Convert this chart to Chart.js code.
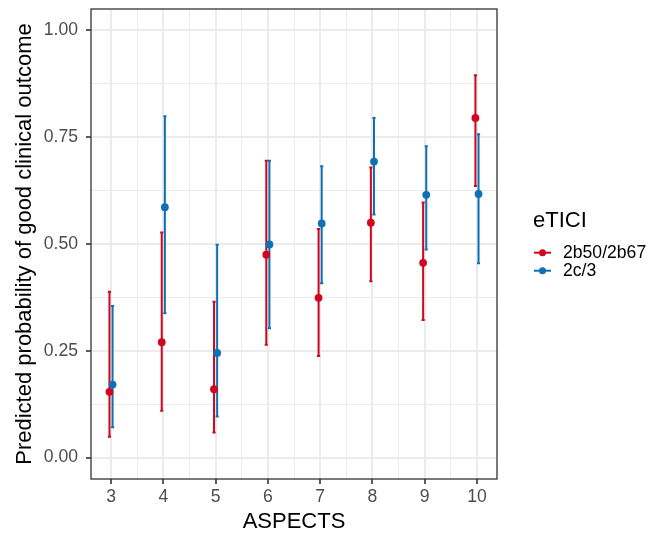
<!DOCTYPE html>
<html>
<head>
<meta charset="utf-8">
<script src="https://cdn.jsdelivr.net/npm/chart.js@4.4.1/dist/chart.umd.min.js"></script>
<style>
  html, body { margin: 0; padding: 0; background: #fff; }
  #wrap { width: 664px; height: 535px; }
</style>
</head>
<body>
<div id="wrap"><canvas id="chart" width="664" height="535"></canvas></div>
<script>
// data
const ASPECTS = [3, 4, 5, 6, 7, 8, 9, 10];
const SERIES = ["2b50/2b67", "2c/3"];

const RED_EST = [0.154, 0.270, 0.160, 0.475, 0.374, 0.550, 0.456, 0.795];
const RED_LO  = [0.049, 0.110, 0.059, 0.264, 0.238, 0.413, 0.322, 0.636];
const RED_HI  = [0.388, 0.527, 0.365, 0.695, 0.535, 0.679, 0.597, 0.895];

const BLUE_EST = [0.171, 0.586, 0.245, 0.499, 0.548, 0.693, 0.615, 0.617];
const BLUE_LO  = [0.071, 0.338, 0.096, 0.303, 0.408, 0.569, 0.487, 0.455];
const BLUE_HI  = [0.355, 0.799, 0.498, 0.695, 0.682, 0.795, 0.729, 0.757];

const Y_MAJOR = [0, 0.25, 0.5, 0.75, 1];
const Y_MINOR = [0.125, 0.375, 0.625, 0.875];
const X_MAJOR = ASPECTS;
const X_MINOR = [3.5, 4.5, 5.5, 6.5, 7.5, 8.5, 9.5];

// looks
const COLORS = ["#D1071F", "#1070B5"];
const DODGE = 0.03;   // dodge in x units
const CAP = 0.03;     // half width of the whisker caps, x units
const FONT = "'Liberation Sans', Arial, sans-serif";

function points(est, side) {
  return ASPECTS.map((a, i) => ({ x: a + side * DODGE, y: est[i] }));
}

const bars = [
  { lo: RED_LO, hi: RED_HI, side: -1, color: COLORS[0] },
  { lo: BLUE_LO, hi: BLUE_HI, side: 1, color: COLORS[1] }
];

// whiskers under all the points
const errorBars = {
  id: "errorBars",
  beforeDatasetsDraw(chart) {
    const { ctx, scales: { x, y } } = chart;
    ctx.save();
    bars.forEach(b => {
      ctx.strokeStyle = b.color;
      ctx.lineWidth = 2;
      ASPECTS.forEach((a, i) => {
        const xv = a + b.side * DODGE;
        const px = x.getPixelForValue(xv);
        const p0 = x.getPixelForValue(xv - CAP), p1 = x.getPixelForValue(xv + CAP);
        const yl = y.getPixelForValue(b.lo[i]), yh = y.getPixelForValue(b.hi[i]);
        ctx.beginPath();
        ctx.moveTo(px, yl); ctx.lineTo(px, yh);
        ctx.moveTo(p0, yl); ctx.lineTo(p1, yl);
        ctx.moveTo(p0, yh); ctx.lineTo(p1, yh);
        ctx.stroke();
      });
    });
    ctx.restore();
  }
};

// panel border + ggplot style legend
const frameAndLegend = {
  id: "frameAndLegend",
  afterDraw(chart) {
    const { ctx, chartArea: a } = chart;
    ctx.save();
    ctx.strokeStyle = "#333333";
    ctx.lineWidth = 1.3;
    ctx.strokeRect(a.left, a.top, a.right - a.left, a.bottom - a.top);

    ctx.fillStyle = "#000";
    ctx.textBaseline = "middle";
    ctx.textAlign = "left";
    ctx.font = `22px ${FONT}`;
    ctx.fillText("eTICI", 533, 221);

    ctx.font = `17.6px ${FONT}`;
    SERIES.forEach((s, i) => {
      const yy = 252.7 + i * 18;
      ctx.strokeStyle = COLORS[i];
      ctx.fillStyle = COLORS[i];
      ctx.lineWidth = 2;
      ctx.beginPath(); ctx.moveTo(534, yy); ctx.lineTo(551, yy); ctx.stroke();
      ctx.beginPath(); ctx.arc(542.5, yy, 3.5, 0, Math.PI * 2); ctx.fill();
      ctx.fillStyle = "#000";
      ctx.fillText(s, 563, yy);
    });
    ctx.restore();
  }
};

function gridOpts(major) {
  const isMajor = v => major.some(m => Math.abs(m - v) < 1e-9);
  return {
    color: c => "#EBEBEB",
    lineWidth: c => isMajor(c.tick.value) ? 2 : 1,
    tickColor: c => isMajor(c.tick.value) ? "#333333" : "rgba(0,0,0,0)",
    tickWidth: c => isMajor(c.tick.value) ? 1.6 : 0,
    tickLength: 5,
    drawTicks: true
  };
}

const chart = new Chart(document.getElementById("chart"), {
  type: "scatter",
  data: {
    datasets: [
      { label: SERIES[0], data: points(RED_EST, -1), backgroundColor: COLORS[0], borderColor: COLORS[0],
        pointRadius: 3.9, pointHoverRadius: 3.9, borderWidth: 0, order: 1 },
      { label: SERIES[1], data: points(BLUE_EST, 1), backgroundColor: COLORS[1], borderColor: COLORS[1],
        pointRadius: 3.9, pointHoverRadius: 3.9, borderWidth: 0, order: 0 }
    ]
  },
  options: {
    responsive: false,
    animation: false,
    events: [],
    layout: { padding: { left: 0, top: 9, right: 167, bottom: 0 } },
    plugins: { legend: { display: false }, tooltip: { enabled: false } },
    scales: {
      x: {
        type: "linear",
        min: 2.617, max: 10.383,
        afterBuildTicks: s => { s.ticks = [...X_MAJOR, ...X_MINOR].sort((p, q) => p - q).map(v => ({ value: v })); },
        afterFit: s => { s.height = 56; s.paddingLeft = 0; s.paddingRight = 0; },
        grid: gridOpts(X_MAJOR),
        border: { display: false },
        ticks: {
          autoSkip: false, maxRotation: 0, padding: 3,
          color: "#4D4D4D", font: { family: FONT, size: 17.6 },
          callback: v => X_MAJOR.includes(v) ? String(v) : ""
        },
        title: { display: true, text: "ASPECTS", color: "#000", padding: { top: 0, bottom: 0 },
          font: { family: FONT, size: 22 } }
      },
      y: {
        min: -0.05, max: 1.05,
        afterBuildTicks: s => { s.ticks = [...Y_MAJOR, ...Y_MINOR].sort((p, q) => p - q).map(v => ({ value: v })); },
        afterFit: s => { s.width = 91; s.paddingTop = 0; s.paddingBottom = 0; },
        grid: gridOpts(Y_MAJOR),
        border: { display: false },
        ticks: {
          autoSkip: false, padding: 8,
          color: "#4D4D4D", font: { family: FONT, size: 17.6 },
          callback: v => Y_MAJOR.some(m => Math.abs(m - v) < 1e-9) ? v.toFixed(2) : ""
        },
        title: { display: true, text: "Predicted probability of good clinical outcome", color: "#000",
          padding: { top: 12, bottom: 0 }, font: { family: FONT, size: 22 } }
      }
    }
  },
  plugins: [errorBars, frameAndLegend]
});
</script>
</body>
</html>
